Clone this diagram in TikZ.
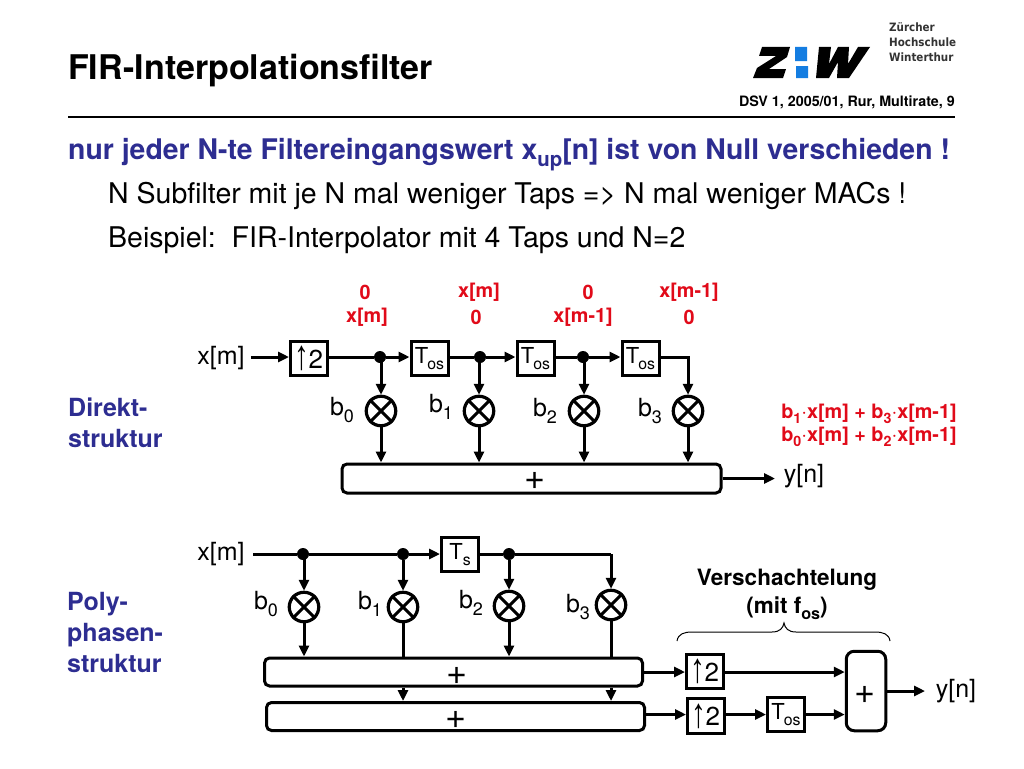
\documentclass[tikz,border=0pt]{standalone}
\usepackage{fontspec}
\setmainfont{TeX Gyre Heros}
\newfontfamily\arrfont{Liberation Sans}
\newfontfamily\logofont{DejaVu Sans Condensed}
\usetikzlibrary{arrows.meta,calc}
\definecolor{headblue}{RGB}{45,45,145}
\definecolor{redtxt}{RGB}{225,10,25}
\definecolor{zhblue}{RGB}{20,125,225}
\newcommand\sbs[1]{\raisebox{-.25em}{\scalebox{.72}{#1}}}
\newcommand\fsz[1]{\fontsize{#1}{#1}\selectfont}
\newcommand\uparr{\raisebox{-.12em}{\scalebox{1.35}[1.9]{\arrfont\fsz{22}↑}}}
\newcommand\upblock{\uparr\kern-1pt{\fsz{26}2}}
\newcommand\delayos{{\fsz{22}T\kern-1pt\raisebox{-.3em}{\scalebox{.72}{os}}}}
\newcommand\delays{{\fsz{22}T\raisebox{-.3em}{\scalebox{.72}{s}}}}
\tikzset{
  x=1pt,y=-1pt,
  wire/.style={line width=3pt},
  arr/.style={line width=3pt,-{Stealth[length=11pt,width=10pt,inset=0pt]}},
  blockbox/.style={draw,line width=3pt,minimum width=37pt,minimum height=34.5pt,inner sep=0pt,outer sep=1.5pt},
  sumbox/.style={draw,line width=3pt,rounded corners=5pt,inner sep=0pt,outer sep=1.5pt},
  mult/.style={draw,circle,line width=3.2pt,minimum size=29.5pt,inner sep=0pt,outer sep=1.5pt},
  junction/.style={fill,circle,minimum size=12pt,inner sep=0pt},
  lbl/.style={font=\fsz{25},inner sep=0pt},
  plussign/.style={font=\fsz{36},inner sep=0pt},
  redl/.style={font=\fsz{19.8}\bfseries,text=redtxt,inner sep=0pt},
  side/.style={font=\fsz{25}\bfseries,text=headblue,inner sep=0pt,anchor=base west},
  txt/.style={font=\fsz{28.5},inner sep=0pt,anchor=base west},
  logotxt/.style={font=\logofont\bfseries\fsz{11.5},inner sep=0pt,anchor=west,text=black!80},
}
\newcommand\crossm[1]{\draw[line width=3pt] (#1.45)--(#1.225) (#1.135)--(#1.315);}
\begin{document}
\begin{tikzpicture}
\useasboundingbox (0,0) rectangle (1024,768);
\fill[white] (0,0) rectangle (1024,768);
% header
\node[font=\fsz{34}\bfseries,inner sep=0pt,anchor=base west] (title) at (68,79) {FIR-Interpolationsfilter};
\fill (753,78) -- (757,68) -- (776,56) -- (759,56) -- (762,47) -- (790,47) -- (787,57) -- (769,69) -- (786,69) -- (783,78) -- cycle;
\fill[zhblue] (795,47) rectangle (807,61) (796,66) rectangle (808,78);
\fill (819,47) -- (831,47) -- (829,64) -- (838,47) -- (849,47) -- (848,64) -- (858,47) -- (870,47) -- (849,78) -- (837,78) -- (838,62) -- (829,78) -- (816,78) -- cycle;
\node[logotxt] (l1) at (889,27) {Zürcher};
\node[logotxt] (l2) at (889,42) {Hochschule};
\node[logotxt] (l3) at (889,57) {Winterthur};
\node[font=\fsz{14.3}\bfseries,inner sep=0pt,anchor=base east] (ref) at (955,106) {DSV 1, 2005/01, Rur, Multirate, 9};
\draw[line width=2pt] (68,117) -- (955,117);
\node[font=\fsz{28.4}\bfseries,text=headblue,inner sep=0pt,anchor=base west] (head) at (68,159) {nur jeder N-te Filtereingangswert x\sbs{up}[n] ist von Null verschieden !};
\node[txt] (t1) at (108,203) {N Subfilter mit je N mal weniger Taps => N mal weniger MACs !};
\node[txt] (t2) at (108,247) {Beispiel:\ \ FIR-Interpolator mit 4 Taps und N=2};
% side labels
\node[side] at (68,416) (s1) {Direkt-};
\node[side] at (68,447) (s2) {struktur};
\node[side] at (67,610) (s3) {Poly-};
\node[side] at (67,641) (s4) {phasen-};
\node[side] at (67,672) (s5) {struktur};
% red labels
\node[redl] (r1) at (365,292) {0};
\node[redl] (r2) at (367,317) {x[m]};
\node[redl] (r3) at (479,292) {x[m]};
\node[redl] (r4) at (476,317) {0};
\node[redl] (r5) at (588,292) {0};
\node[redl] (r6) at (583,317) {x[m-1]};
\node[redl] (r7) at (689,292) {x[m-1]};
\node[redl] (r8) at (689,317) {0};
\node[redl] (r9) at (869,414) {b\sbs{1}$\cdot$x[m] + b\sbs{3}$\cdot$x[m-1]};
\node[redl] (r10) at (869,437) {b\sbs{0}$\cdot$x[m] + b\sbs{2}$\cdot$x[m-1]};
% direct structure
\node[lbl] (xa) at (221,358) {x[m]};
\node[blockbox] (up) at (309,358.5) {\upblock};
\node[blockbox] (t1a) at (429.5,358.5) {\delayos};
\node[blockbox] (t2a) at (535.5,358.5) {\delayos};
\node[blockbox] (t3a) at (640.5,358.5) {\delayos};
\node[junction] (j1) at (380,357) {};
\node[junction] (j2) at (480,357) {};
\node[junction] (j3) at (583,357) {};
\coordinate (c1) at (688,357);
\node[mult] (m0) at (381,411) {};
\node[mult] (m1) at (479,411) {};
\node[mult] (m2) at (584,411) {};
\node[mult] (m3) at (688,411) {};
\crossm{m0}\crossm{m1}\crossm{m2}\crossm{m3}
\node[lbl] (b0) at (342,410) {b\sbs{0}};
\node[lbl] (b1) at (441,407) {b\sbs{1}};
\node[lbl] (b2) at (545,411) {b\sbs{2}};
\node[lbl] (b3) at (650,411) {b\sbs{3}};
\node[sumbox,minimum width=379pt,minimum height=29pt] (sa) at (531.5,478.5) {};
\node[plussign] (pa) at (535,481) {+};
\node[lbl] (ya) at (804,476) {y[n]};
\draw[arr] ($(xa.east |- j1)+(6,0)$) -- (up.west |- j1);
\draw[wire] (up.east |- j1) -- (j1);
\draw[arr] (j1) -- (t1a.west |- j1);
\draw[wire] (t1a.east |- j1) -- (j2);
\draw[arr] (j2) -- (t2a.west |- j1);
\draw[wire] (t2a.east |- j1) -- (j3);
\draw[arr] (j3) -- (t3a.west |- j1);
\draw[arr] (t3a.east |- j1) -- (c1) -- (m3.north);
\draw[arr] (m0 |- j1) -- (m0.north);
\draw[arr] (m1 |- j1) -- (m1.north);
\draw[arr] (m2 |- j1) -- (m2.north);
\draw[arr] (m0.south) -- (m0.south |- sa.north);
\draw[arr] (m1.south) -- (m1.south |- sa.north);
\draw[arr] (m2.south) -- (m2.south |- sa.north);
\draw[arr] (m3.south) -- (m3.south |- sa.north);
\draw[arr] (sa.east) -- (775,478.5);
% polyphase
\node[lbl] (xb) at (221,554) {x[m]};
\coordinate (c0) at (253,554);
\node[junction] (k0) at (303,554) {};
\node[junction] (k1) at (403,554) {};
\node[blockbox] (ts) at (460,554.5) {\delays};
\node[junction] (k2) at (509,554) {};
\coordinate (c2) at (611,554);
\node[mult] (n0) at (304,607) {};
\node[mult] (n1) at (403,607) {};
\node[mult] (n2) at (509,606) {};
\node[mult] (n3) at (611,605) {};
\crossm{n0}\crossm{n1}\crossm{n2}\crossm{n3}
\node[lbl] (c0l) at (266,604) {b\sbs{0}};
\node[lbl] (c1l) at (370,604) {b\sbs{1}};
\node[lbl] (c2l) at (471,603) {b\sbs{2}};
\node[lbl] (c3l) at (578,607) {b\sbs{3}};
\node[sumbox,minimum width=378pt,minimum height=28pt] (sb) at (453.5,672) {};
\node[sumbox,minimum width=378pt,minimum height=28pt] (sc) at (455.5,716.5) {};
\node[plussign] (pb) at (457,676) {+};
\node[plussign] (pc) at (456,720) {+};
\node[blockbox] (ub) at (705,671.5) {\upblock};
\node[blockbox] (uc) at (706,716) {\upblock};
\node[blockbox] (tc) at (786,714.5) {\delayos};
\node[draw,line width=3pt,rounded corners=8pt,minimum width=39.5pt,minimum height=79.5pt,inner sep=0pt,outer sep=1.5pt] (bigp) at (866,691) {};
\node[plussign] (pd) at (865,695) {+};
\node[lbl] (yb) at (956,691) {y[n]};
\coordinate (bp1) at (bigp.west |- sb);
\coordinate (bp2) at (bigp.west |- tc);
\draw[wire] (c0) -- (k0) -- (k1);
\draw[arr] (k1) -- (ts.west |- k1);
\draw[wire] (ts.east |- k1) -- (k2) -- (c2);
\draw[arr] (c2) -- (n3.north);
\draw[arr] (n0 |- k0) -- (n0.north);
\draw[arr] (k1) -- (n1.north);
\draw[arr] (k2) -- (n2.north);
\draw[arr] (n0.south) -- (n0.south |- sb.north);
\draw[wire] (n1.south) -- (n1.south |- sb.north);
\draw[arr] (n2.south) -- (n2.south |- sb.north);
\draw[wire] (n3.south) -- (n3.south |- sb.north);
\draw[arr] (n1 |- sb.south) -- (n1 |- sc.north);
\draw[arr] (n3 |- sb.south) -- (n3 |- sc.north);
\draw[arr] (sb.east) -- (ub.west |- sb);
\draw[arr] (sc.east |- tc) -- (uc.west |- tc);
\draw[arr] (ub.east |- sb) -- (bp1);
\draw[arr] (uc.east |- tc) -- (tc.west);
\draw[arr] (tc.east) -- (bp2);
\draw[arr] (bigp.east) -- (925,691);
% brace and note
\node[font=\fsz{22.5}\bfseries,inner sep=0pt] (v1) at (787,580) {Verschachtelung};
\node[font=\fsz{22.5}\bfseries,inner sep=0pt] (v2) at (787,608) {(mit f\sbs{os})};
\draw[line width=1pt] (677,641) .. controls (678,634) and (684,632) .. (692,632) -- (772,632) .. controls (780,632) and (783,628) .. (784,623) .. controls (785,628) and (788,632) .. (796,632) -- (875,632) .. controls (883,632) and (889,634) .. (890,641);
\end{tikzpicture}
\end{document}
